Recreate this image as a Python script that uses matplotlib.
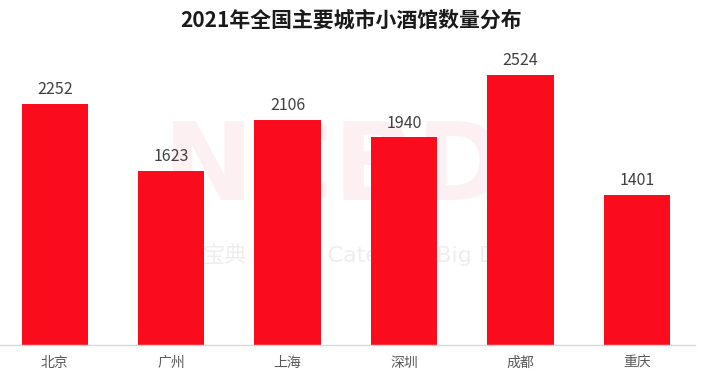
import matplotlib.pyplot as plt

cities = ['北京', '广州', '上海', '深圳', '成都', '重庆']
counts = [2252, 1623, 2106, 1940, 2524, 1401]

plt.rcParams['font.family'] = ['Noto Sans CJK SC', 'DejaVu Sans']

fig = plt.figure(figsize=(7.02, 3.85), dpi=100)
ax = fig.add_axes([0.0, 0.104, 0.99, 0.766])

# faint watermark behind the bars
ax.text(163 / 702, 1 - 200 / 385, 'NCBD', transform=fig.transFigure, fontsize=78,
        fontweight='bold', family='DejaVu Sans', color='#FDF0F2',
        ha='left', va='baseline', zorder=0)
ax.text(203 / 702, 1 - 262 / 385, '宝典', transform=fig.transFigure,
        fontsize=16, color='#EEEEEE', ha='left', va='baseline', zorder=0)
ax.text(272 / 702, 1 - 262 / 385, 'New Category Big Data', transform=fig.transFigure,
        fontsize=16, family='DejaVu Sans', color='#EEEEEE', ha='left', va='baseline', zorder=0)

x = range(len(cities))
bars = ax.bar(x, counts, width=0.57, color='#FA0C1D', zorder=2)
for xi, v in zip(x, counts):
    ax.text(xi, v + 55, str(v), ha='center', va='bottom', fontsize=11.5,
            color='#404040', zorder=3)

ax.set_xlim(-0.47, 5.5)
ax.set_ylim(0, 2757)
ax.set_xticks(list(x))
ax.set_xticklabels(cities, fontsize=10, color='#595959')
ax.tick_params(axis='x', length=0, pad=8)
ax.set_yticks([])
for s in ['top', 'right', 'left']:
    ax.spines[s].set_visible(False)
ax.spines['bottom'].set_color('#D9D9D9')
ax.spines['bottom'].set_linewidth(1)

fig.text(0.5, 1 - 20 / 385, '2021年全国主要城市小酒馆数量分布', ha='center', va='center',
         fontsize=15, fontweight='bold', color='#1A1A1A')

fig.savefig('out.png', dpi=100)
